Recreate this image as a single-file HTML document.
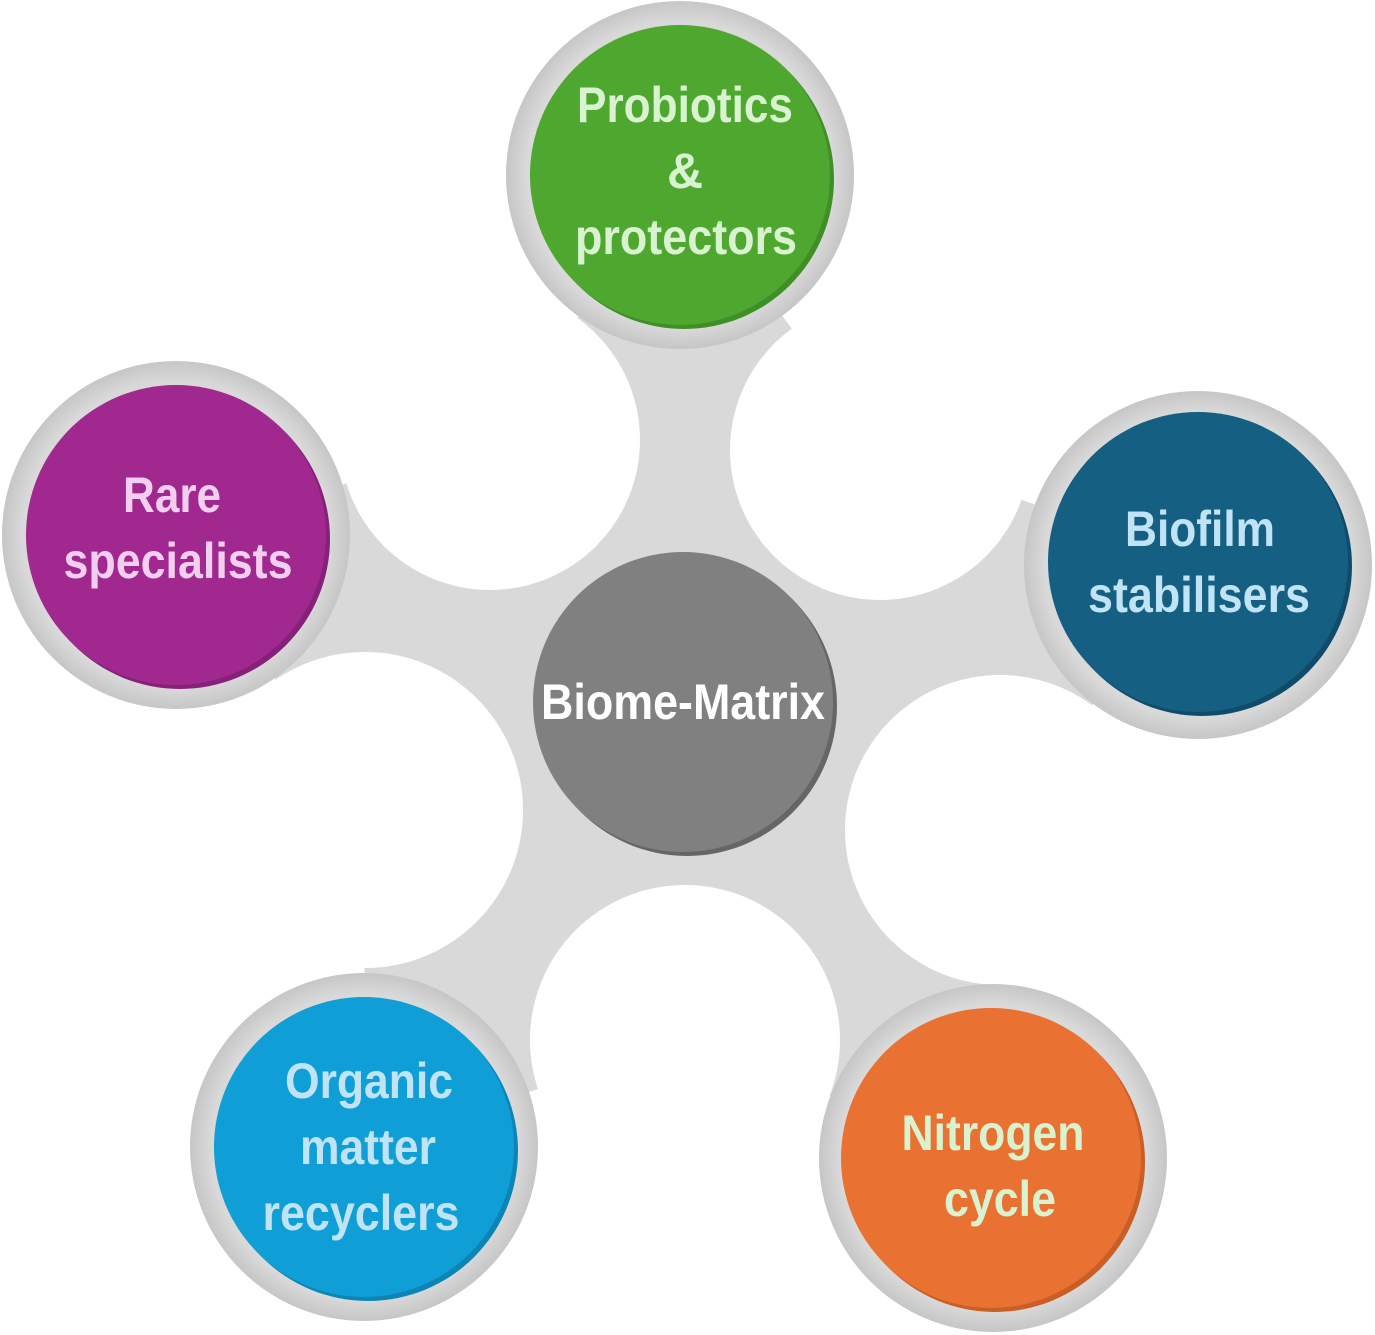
<!DOCTYPE html>
<html><head><meta charset="utf-8"><style>
html,body{margin:0;padding:0;background:#fff;}
svg{display:block;}
text{font-family:"Liberation Sans Narrow","Liberation Sans",sans-serif;font-weight:bold;font-size:50px;text-anchor:middle;}
</style></head><body>
<svg width="1375" height="1335" viewBox="0 0 1375 1335">
<defs>
<radialGradient id="rg" cx="50%" cy="50%" r="50%">
<stop offset="88%" stop-color="#d9d9d9"/><stop offset="100%" stop-color="#c6c6c6"/>
</radialGradient>
</defs>
<polygon points="680,175 880,450 1198,562 1000,830 991,1158 685,1040 364,1147 365,810 176,535 490,440" fill="#d9d9d9"/>
<g fill="#fff">
<circle cx="490" cy="440" r="150"/>
<circle cx="880" cy="450" r="150"/>
<circle cx="1000" cy="830" r="155"/>
<circle cx="685" cy="1040" r="155"/>
<circle cx="365" cy="810" r="158"/>
</g>
<g fill="url(#rg)">
<circle cx="680" cy="175" r="174"/>
<circle cx="176" cy="535" r="174"/>
<circle cx="1198" cy="565" r="174"/>
<circle cx="364" cy="1147" r="174"/>
<circle cx="993" cy="1158" r="174"/>
</g>
<circle cx="687" cy="706" r="150" fill="#666"/>
<circle cx="683" cy="702" r="150" fill="#808080"/>
<circle cx="684" cy="179" r="150" fill="#3f8f26"/>
<circle cx="680" cy="175" r="150" fill="#4ea72e"/>
<circle cx="180" cy="539" r="150" fill="#86217a"/>
<circle cx="176" cy="535" r="150" fill="#a0288f"/>
<circle cx="1202" cy="566" r="150" fill="#0f4c6a"/>
<circle cx="1198" cy="562" r="150" fill="#155f82"/>
<circle cx="368" cy="1151" r="150" fill="#0c85b5"/>
<circle cx="364" cy="1147" r="150" fill="#0f9ed5"/>
<circle cx="995" cy="1162" r="150" fill="#c95e26"/>
<circle cx="991" cy="1158" r="150" fill="#e97132"/>
<text x="683" y="719" fill="#fff" textLength="284" lengthAdjust="spacingAndGlyphs">Biome-Matrix</text>
<g fill="#d9f2d0">
<text x="685" y="122" textLength="216" lengthAdjust="spacingAndGlyphs">Probiotics</text>
<text x="685" y="188">&amp;</text>
<text x="686" y="254" textLength="222" lengthAdjust="spacingAndGlyphs">protectors</text>
</g>
<g fill="#f2cfee">
<text x="172" y="512" textLength="98" lengthAdjust="spacingAndGlyphs">Rare</text>
<text x="178" y="578" textLength="229" lengthAdjust="spacingAndGlyphs">specialists</text>
</g>
<g fill="#c0e4f5">
<text x="1200" y="546" textLength="150" lengthAdjust="spacingAndGlyphs">Biofilm</text>
<text x="1199" y="612" textLength="222" lengthAdjust="spacingAndGlyphs">stabilisers</text>
<text x="369" y="1098" textLength="168" lengthAdjust="spacingAndGlyphs">Organic</text>
<text x="368" y="1164" textLength="136" lengthAdjust="spacingAndGlyphs">matter</text>
<text x="361" y="1230" textLength="197" lengthAdjust="spacingAndGlyphs">recyclers</text>
</g>
<g fill="#d9f2d0">
<text x="993" y="1150" textLength="183" lengthAdjust="spacingAndGlyphs">Nitrogen</text>
<text x="1000" y="1216" textLength="112" lengthAdjust="spacingAndGlyphs">cycle</text>
</g>
</svg>
</body></html>
